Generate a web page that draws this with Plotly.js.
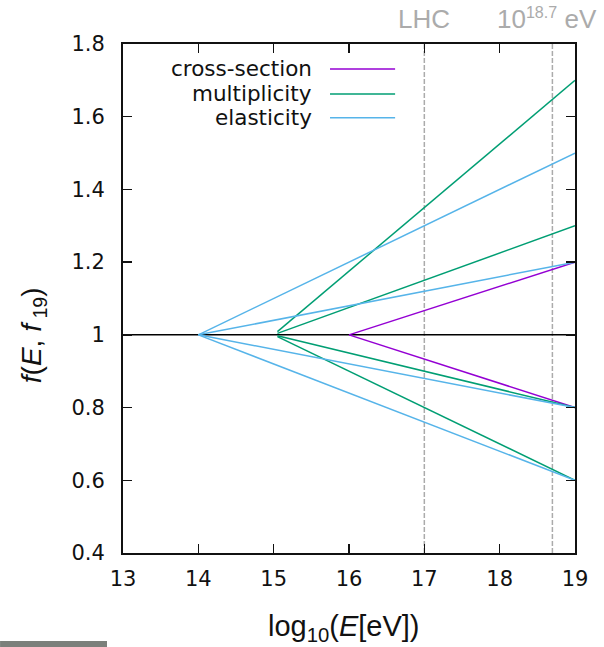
<!DOCTYPE html>
<html>
<head>
<meta charset="utf-8">
<script src="https://cdn.plot.ly/plotly-3.0.1.min.js"></script>
<style>
  html, body { margin: 0; padding: 0; background: #fff; }
  #chart { width: 604px; height: 647px; }
</style>
</head>
<body>
<div id="chart"></div>
<script>
// Modification factor f(E, f19) versus log10 energy, for three shower parameters.
// Each parameter fans out from its onset energy to the values f19 reached at 10^19 eV.

const crossX = [16, 19];
const crossUp = [1, 1.2];
const crossDown = [1, 0.8];

const multX = [15.05, 19];
const multUpHigh = [1.009, 1.7];
const multUpLow = [1.004, 1.3];
const multDownHigh = [0.9975, 0.8];
const multDownLow = [0.995, 0.6];

const elastX = [14, 19];
const elastUpHigh = [1, 1.5];
const elastUpLow = [1, 1.2];
const elastDownHigh = [1, 0.8];
const elastDownLow = [1, 0.6];

const unityX = [13, 19];
const unityY = [1, 1];

const markerEnergies = [17, 18.7];
const markerLabels = ['LHC', '10<span style="font-size:23px"><sup>18.7</sup></span> eV'];
const markerLabelShift = [0, -0.07];
const yRange = [0.4, 1.8];

const seriesNames = ['cross-section', 'multiplicity', 'elasticity'];
const seriesColors = ['#9400d3', '#009e73', '#56b4e9'];

function line(x, y, color, width, dash) {
  return {
    x: x, y: y, type: 'scatter', mode: 'lines', showlegend: false, hoverinfo: 'skip',
    line: { color: color, width: width, dash: dash || 'solid' }
  };
}

const traces = [];
// reference markers
markerEnergies.forEach(e => traces.push(line([e, e], yRange, '#ababab', 1.5, '5px,2px')));
// unity line
traces.push(line(unityX, unityY, '#000000', 1.5));
// cross-section
traces.push(line(crossX, crossUp, seriesColors[0], 1.5));
traces.push(line(crossX, crossDown, seriesColors[0], 1.5));
// multiplicity
[multUpHigh, multUpLow, multDownHigh, multDownLow].forEach(y => traces.push(line(multX, y, seriesColors[1], 1.5)));
// elasticity
[elastUpHigh, elastUpLow, elastDownHigh, elastDownLow].forEach(y => traces.push(line(elastX, y, seriesColors[2], 1.5)));

const annotations = [];
const shapes = [];

// key, drawn gnuplot-style: right-aligned text with the sample line after it
const keyRows = [0.951, 0.902, 0.855];
seriesNames.forEach((name, i) => {
  const yp = keyRows[i];
  annotations.push({
    xref: 'paper', yref: 'paper', x: 0.4226, y: yp, xanchor: 'right', yanchor: 'middle',
    text: name, showarrow: false,
    font: { family: 'DejaVu Sans', size: 21.5, color: '#111' }
  });
  shapes.push({
    type: 'line', xref: 'paper', yref: 'paper', x0: 0.458, x1: 0.602, y0: yp, y1: yp,
    line: { color: seriesColors[i], width: 1.5 }
  });
});

// labels above the reference markers
markerEnergies.forEach((e, i) => {
  annotations.push({
    xref: 'x', yref: 'paper', x: e + markerLabelShift[i], y: 1.05, xanchor: 'center', yanchor: 'middle',
    text: markerLabels[i], showarrow: false,
    font: { family: 'Liberation Sans, Arial', size: 26, color: '#ababab' }
  });
});

// axis titles
annotations.push({
  xref: 'paper', yref: 'paper', x: 0.489, y: -0.147, xanchor: 'center', yanchor: 'middle',
  text: 'log<sub>10</sub>(<i>E</i>[eV])', showarrow: false,
  font: { family: 'Liberation Sans, Arial', size: 29, color: '#111' }
});
annotations.push({
  xref: 'paper', yref: 'paper', x: -0.199, y: 0.428, xanchor: 'center', yanchor: 'middle',
  textangle: -90,
  text: '<i>f</i>(<i>E</i>, <i>f</i><sub> 19</sub>)', showarrow: false,
  font: { family: 'Liberation Sans, Arial', size: 28, color: '#111' }
});

// grey strip at the lower left edge
shapes.push({
  type: 'rect', xref: 'paper', yref: 'paper', x0: -0.272, x1: -0.0354, y0: -0.1729, y1: -0.19,
  fillcolor: '#7b807b', line: { width: 0 }
});

const axisCommon = {
  showline: true, linecolor: '#111', linewidth: 2, mirror: 'ticks',
  ticks: 'inside', ticklen: 9, tickwidth: 1.3, tickcolor: '#111',
  showgrid: false, zeroline: false,
  tickfont: { family: 'DejaVu Sans', size: 21, color: '#111' }
};

const layout = {
  width: 604, height: 647,
  margin: { l: 123, r: 29, t: 44, b: 94 },
  paper_bgcolor: '#fff', plot_bgcolor: '#fff',
  showlegend: false,
  xaxis: Object.assign({}, axisCommon, {
    range: [13, 19], dtick: 1, tick0: 13, ticklabelstandoff: 6
  }),
  yaxis: Object.assign({}, axisCommon, {
    range: yRange, dtick: 0.2, tick0: 0.4, ticklabelstandoff: 12
  }),
  annotations: annotations,
  shapes: shapes
};

Plotly.newPlot('chart', traces, layout, { staticPlot: true, displayModeBar: false });
</script>
</body>
</html>
